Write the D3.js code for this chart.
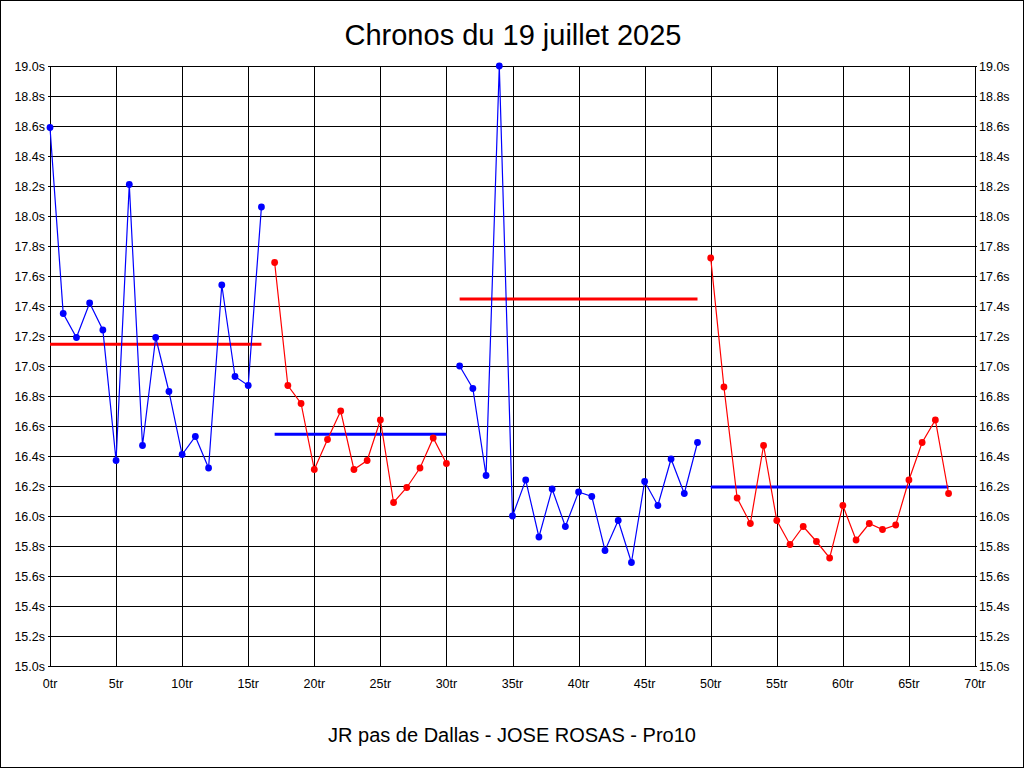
<!DOCTYPE html>
<html>
<head>
<meta charset="utf-8">
<script src="https://cdn.jsdelivr.net/npm/d3@7/dist/d3.min.js"></script>
<style>
html,body{margin:0;padding:0;background:#fff;}
svg{display:block;}
text{font-family:"Liberation Sans",Arial,sans-serif;fill:#000;}
</style>
</head>
<body>
<script>
// ---- Data ----
const title = "Chronos du 19 juillet 2025";
const subtitle = "JR pas de Dallas - JOSE ROSAS - Pro10";

// Lap segments (start lap, times in seconds, colour)
const seg1Start = 0;
const seg1Times = [18.59,17.35,17.19,17.42,17.24,16.37,18.21,16.47,17.19,16.83,16.41,16.53,16.32,17.54,16.93,16.87,18.06];
const seg2Start = 17;
const seg2Times = [17.69,16.87,16.75,16.31,16.51,16.70,16.31,16.37,16.64,16.09,16.19,16.32,16.52,16.35];
const seg3Start = 31;
const seg3Times = [17.00,16.85,16.27,19.00,16.00,16.24,15.86,16.18,15.93,16.16,16.13,15.77,15.97,15.69,16.23,16.07,16.38,16.15,16.49];
const seg4Start = 50;
const seg4Times = [17.72,16.86,16.12,15.95,16.47,15.97,15.81,15.93,15.83,15.72,16.07,15.84,15.95,15.91,15.94,16.24,16.49,16.64,16.15];
const segColors = ["#0000ff","#ff0000","#0000ff","#ff0000"];

// Mean lines: [from lap, to lap, value, colour]
const meanFrom = [0, 17, 31, 50];
const meanTo = [16, 30, 49, 68];
const meanValues = [17.145, 16.545, 17.447, 16.193];
const meanColors = ["#ff0000","#0000ff","#ff0000","#0000ff"];

const yTicks = d3.range(0, 21).map(i => +(15 + i*0.2).toFixed(1));
const xTicks = d3.range(0, 15).map(i => i*5);

// ---- Chart ----
const W = 1024, H = 768;
const svg = d3.select("body").append("svg").attr("width", W).attr("height", H);

svg.append("rect").attr("x",0.5).attr("y",0.5).attr("width",W-1).attr("height",H-1)
  .attr("fill","#fff").attr("stroke","#000").attr("stroke-width",1);

const x = d3.scaleLinear().domain([0,70]).range([50,975]);
const y = d3.scaleLinear().domain([15,19]).range([666,66]);

const px = v => Math.round(x(v)) + 0.5;
const py = v => Math.round(y(v)) + 0.5;

// grid
const grid = svg.append("g").attr("shape-rendering","crispEdges");
grid.selectAll("line.h").data(yTicks).join("line")
  .attr("x1", 48).attr("x2", x(70)+2)
  .attr("y1", d => py(d)).attr("y2", d => py(d))
  .attr("stroke","#000").attr("stroke-width",1);
grid.selectAll("line.v").data(xTicks).join("line")
  .attr("x1", d => px(d)).attr("x2", d => px(d))
  .attr("y1", y(19)).attr("y2", py(15))
  .attr("stroke","#000").attr("stroke-width",1);

// y labels left and right
const fmtY = d => d.toFixed(1) + "s";
svg.selectAll("text.yl").data(yTicks).join("text")
  .attr("x", 45).attr("y", d => y(d) + 5)
  .attr("text-anchor","end").attr("font-size", 12.5)
  .text(fmtY);
svg.selectAll("text.yr").data(yTicks).join("text")
  .attr("x", 979).attr("y", d => y(d) + 5)
  .attr("text-anchor","start").attr("font-size", 12.5)
  .text(fmtY);

// x labels
svg.selectAll("text.xl").data(xTicks).join("text")
  .attr("x", d => x(d)).attr("y", 688)
  .attr("text-anchor","middle").attr("font-size", 12.5)
  .text(d => d + "tr");

// mean lines
svg.selectAll("line.mean").data(meanValues).join("line")
  .attr("x1", (d,i) => x(meanFrom[i])).attr("x2", (d,i) => x(meanTo[i]))
  .attr("y1", d => y(d)).attr("y2", d => y(d))
  .attr("stroke", (d,i) => meanColors[i]).attr("stroke-width", 3);

// series
const segs = [[seg1Start,seg1Times],[seg2Start,seg2Times],[seg3Start,seg3Times],[seg4Start,seg4Times]];
const line = d3.line().x(d => x(d[0])).y(d => y(d[1]));
segs.forEach((s,i) => {
  const pts = s[1].map((v,j) => [s[0]+j, v]);
  svg.append("path").datum(pts).attr("d", line)
    .attr("fill","none").attr("stroke", segColors[i]).attr("stroke-width",1.2);
  svg.append("g").selectAll("circle").data(pts).join("circle")
    .attr("cx", d => x(d[0])).attr("cy", d => y(d[1])).attr("r", 3.4)
    .attr("fill", segColors[i]);
});

// titles
svg.append("text").attr("x", 513).attr("y", 45).attr("text-anchor","middle")
  .attr("font-size", 29).text(title);
svg.append("text").attr("x", 512).attr("y", 742).attr("text-anchor","middle")
  .attr("font-size", 20).text(subtitle);
</script>
</body>
</html>
